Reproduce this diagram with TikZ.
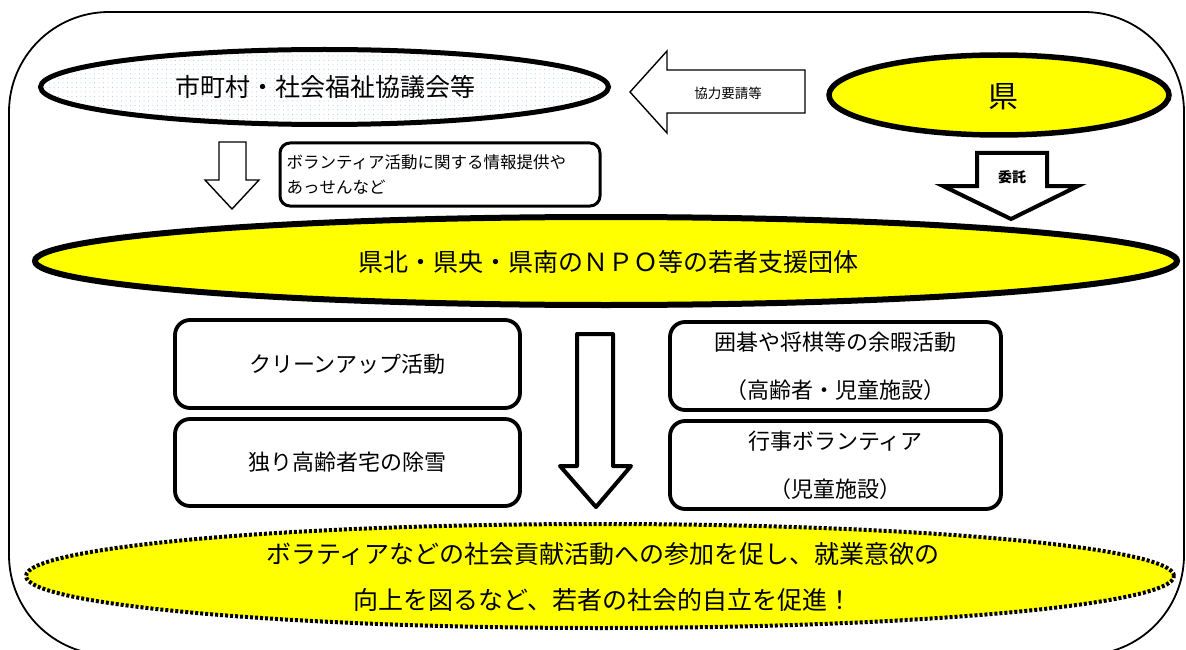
\documentclass[tikz,border=0pt]{standalone}
\usepackage{fontspec}
\setmainfont{Noto Sans CJK JP}
\usetikzlibrary{shapes.geometric,patterns.meta}
\definecolor{ylw}{RGB}{255,255,0}
\definecolor{dotblue}{RGB}{170,192,228}
\begin{document}
\begin{tikzpicture}[x=1pt,y=-1pt,
  frameline/.style={draw, line width=1.8pt},
  oval/.style={ellipse, draw, inner sep=0pt},
  ovalthick/.style={oval, line width=5.5pt, fill=ylw},
  roundbox/.style={draw, line width=3.8pt, rounded corners=15pt, inner sep=0pt, align=center, font=\fontsize{22pt}{48pt}\selectfont},
  thinarrow/.style={draw, line width=1.4pt, fill=white, line join=miter},
  thickarrow/.style={draw, line width=4pt, fill=white, line join=round},
  bigtext/.style={font=\fontsize{25pt}{30pt}\selectfont}
]
\useasboundingbox (0,0) rectangle (1186,650);
% outer frame
\draw[frameline, rounded corners=100pt] (9,12) rectangle (1184,655);

% municipal ellipse
\node[oval, line width=5pt, minimum width=568pt, minimum height=75pt,
      preaction={fill=white}, pattern={Dots[distance=4.5pt, radius=0.5pt]}, pattern color=dotblue] (muni) at (324.5,87) {};
\node[bigtext] (munitext) at (325,87) {市町村・社会福祉協議会等};

% prefecture ellipse
\node[ovalthick, minimum width=340pt, minimum height=80pt] (pref) at (999,95) {};
\node[font=\fontsize{30pt}{34pt}\selectfont] (preftext) at (1003,97) {県};

% cooperation request arrow (left)
\draw[thinarrow] (630,92) -- (667,51) -- (667,70) -- (805,70) -- (805,113) -- (667,113) -- (667,133) -- cycle;
\node[font=\fontsize{13.5pt}{16pt}\selectfont] (reqtext) at (728,93) {協力要請等};

% thin down arrow
\draw[thinarrow] (219,142) -- (246,142) -- (246,180) -- (259,180) -- (232,209) -- (205,180) -- (219,180) -- cycle;

% info box
\node[draw, line width=3pt, rounded corners=10pt, minimum width=320pt, minimum height=63pt,
      inner xsep=6pt, text width=307pt, align=left, font=\fontsize{16.5pt}{25pt}\selectfont] (info) at (440,174.5)
      {ボランティア活動に関する情報提供や\\あっせんなど};

% entrust arrow
\draw[thickarrow, line join=miter] (977,153) -- (1047,153) -- (1047,186) -- (1078,186) -- (1011,219) -- (943,186) -- (977,186) -- cycle;
\node[font=\fontsize{14pt}{16pt}\selectfont\bfseries] (entrust) at (1012,177) {委託};

% NPO ellipse
\node[ovalthick, line width=6pt, minimum width=1142pt, minimum height=88pt] (npo) at (606,261) {};
\node[bigtext] (npotext) at (608,262) {県北・県央・県南のＮＰＯ等の若者支援団体};

% activity boxes
\node[roundbox, minimum width=345pt, minimum height=88pt] (clean) at (347.5,364) {クリーンアップ活動};
\node[roundbox, minimum width=345pt, minimum height=87pt] (snow) at (347.5,462.5) {独り高齢者宅の除雪};
\node[roundbox, minimum width=331pt, minimum height=88pt] (go) at (835.5,366) {囲碁や将棋等の余暇活動\\（高齢者・児童施設）};
\node[roundbox, minimum width=331pt, minimum height=88pt] (event) at (835.5,465) {行事ボランティア\\（児童施設）};

% central arrow
\draw[thickarrow] (577,334) -- (613,334) -- (613,466) -- (631,466) -- (596,507) -- (560,466) -- (577,466) -- cycle;

% goal ellipse
\node[oval, line width=4pt, dash pattern=on 3pt off 2pt, fill=ylw, minimum width=1148pt, minimum height=104pt] (goal) at (600,576) {};
\node[align=center, font=\fontsize{25pt}{46pt}\selectfont] (goaltext) at (603,577)
  {ボラティアなどの社会貢献活動への参加を促し、就業意欲の\\向上を図るなど、若者の社会的自立を促進！};
\end{tikzpicture}
\end{document}
